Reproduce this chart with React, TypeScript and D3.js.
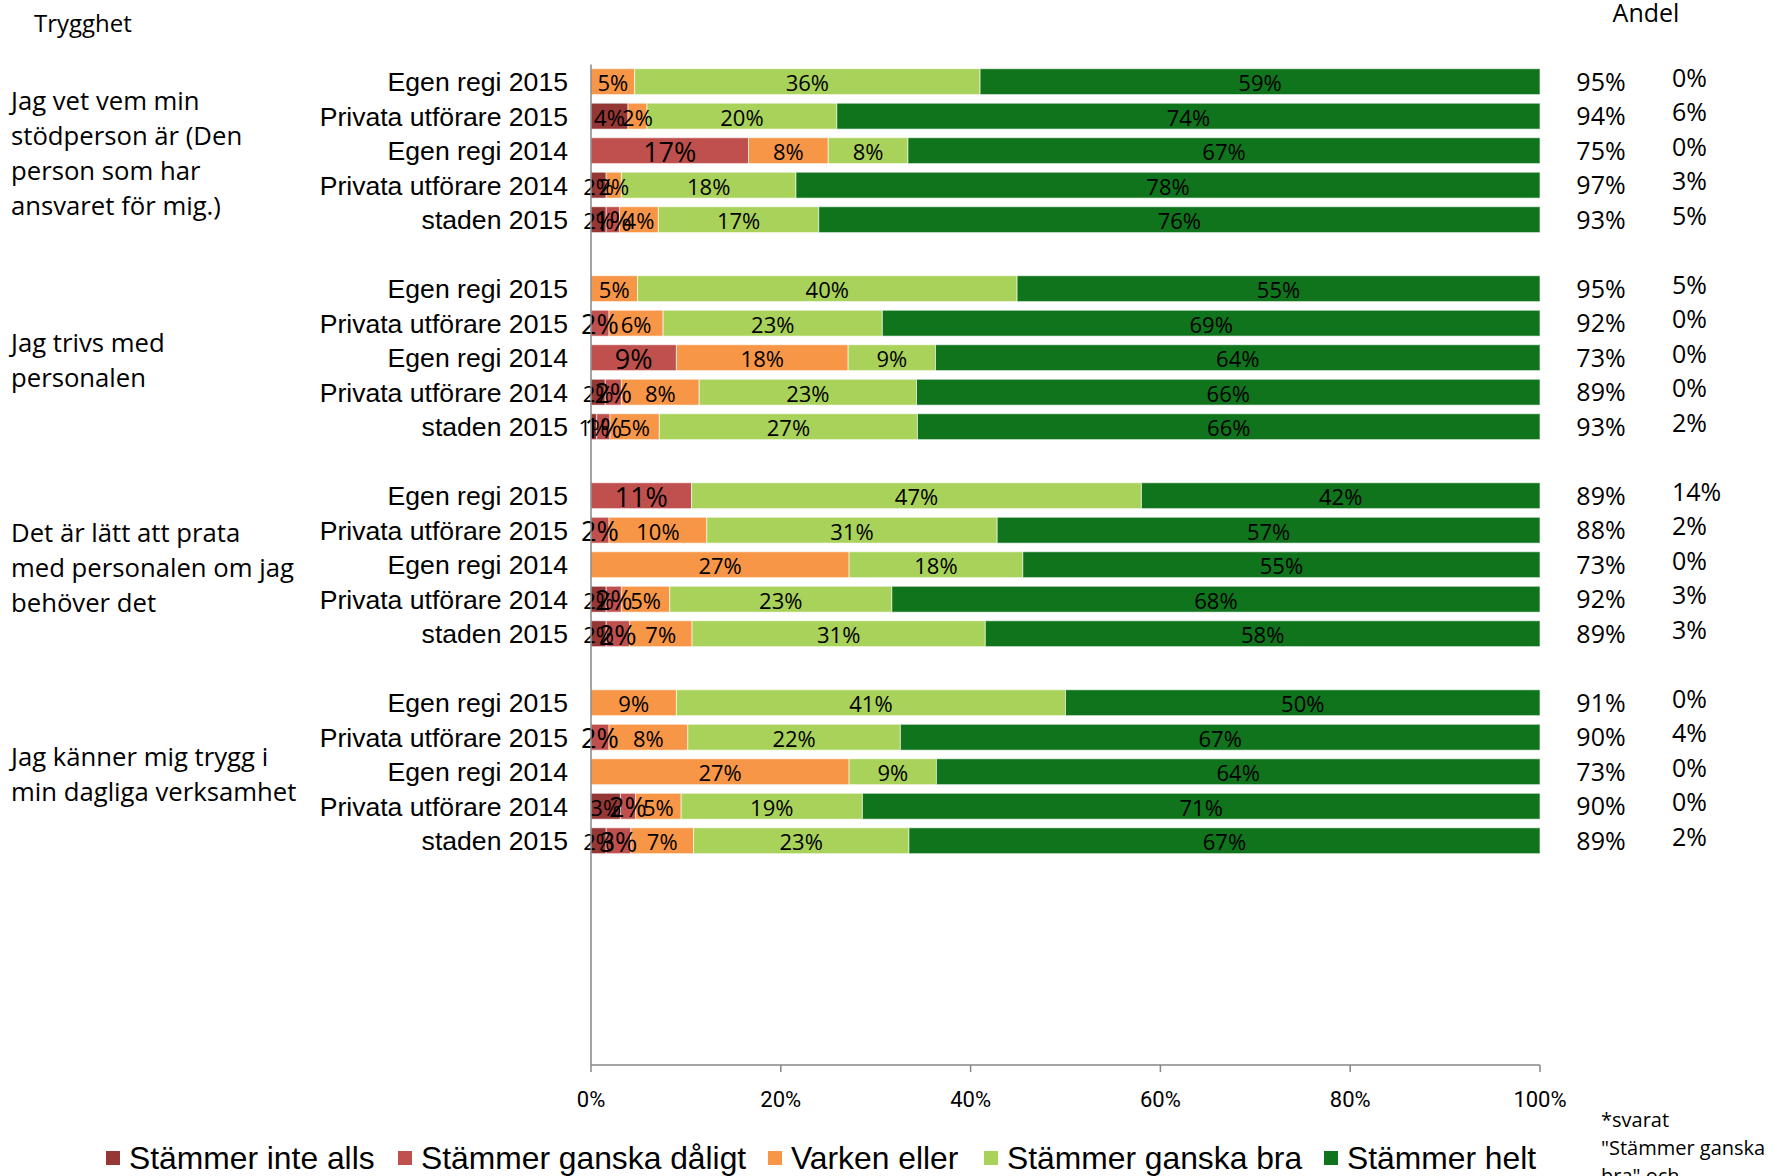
import React from "react";
import * as d3 from "d3";

const questions = [
  ["Jag vet vem min", "stödperson är (Den", "person som har", "ansvaret för mig.)"],
  ["Jag trivs med", "personalen"],
  ["Det är lätt att prata", "med personalen om jag", "behöver det"],
  ["Jag känner mig trygg i", "min dagliga verksamhet"],
];
const categories = ["Egen regi 2015", "Privata utförare 2015", "Egen regi 2014", "Privata utförare 2014", "staden 2015"];
const seriesNames = ["Stämmer inte alls", "Stämmer ganska dåligt", "Varken eller", "Stämmer ganska bra", "Stämmer helt"];
const seriesColors = ["#953735", "#C0504D", "#F79646", "#A9D25A", "#0F741C"];

// 20 rows: 4 questions x 5 categories
const inteAlls = [0, 3.9, 0, 1.6, 1.6, 0, 0, 0, 1.5, 0.6, 0, 0, 0, 1.6, 1.6, 0, 0, 0, 3.1, 1.6];
const ganskaDaligt = [0, 0, 16.6, 0, 1.4, 0, 1.9, 9.0, 1.7, 1.4, 10.6, 1.9, 0, 1.6, 2.45, 0, 1.9, 0, 1.6, 2.6];
const varkenEller = [4.6, 2.0, 8.4, 1.6, 4.1, 4.9, 5.7, 18.1, 8.2, 5.2, 0, 10.3, 27.2, 5.1, 6.6, 9.0, 8.3, 27.2, 4.8, 6.6];
const ganskaBra = [36.4, 20.0, 8.4, 18.4, 16.9, 40.0, 23.1, 9.2, 22.9, 27.2, 47.4, 30.6, 18.3, 23.4, 30.9, 41.0, 22.4, 9.2, 19.1, 22.7];
const helt = [59.0, 74.1, 66.6, 78.4, 76.0, 55.1, 69.3, 63.7, 65.7, 65.6, 42.0, 57.2, 54.5, 68.3, 58.45, 50.0, 67.4, 63.6, 71.4, 66.5];

const andel = [95, 94, 75, 97, 93, 95, 92, 73, 89, 93, 89, 88, 73, 92, 89, 91, 90, 73, 90, 89];
const andel2 = [0, 6, 0, 3, 5, 5, 0, 0, 0, 2, 14, 2, 0, 3, 3, 0, 4, 0, 0, 2];

const xTicks = [0, 20, 40, 60, 80, 100];
const noteLines = ["*svarat", "\"Stämmer ganska", "bra\" och"];

const W = 1777;
const H = 1176;
const SLOTS = 29;

export default function App() {
  const x = d3.scaleLinear().domain([0, 100]).range([591, 1540]);
  const y = d3
    .scaleBand<number>()
    .domain(d3.range(SLOTS))
    .range([64.4, 1065])
    .paddingInner(0.25)
    .paddingOuter(0.125);
  const bh = y.bandwidth();
  const series = [inteAlls, ganskaDaligt, varkenEller, ganskaBra, helt];

  const rows = d3.range(20).map((i) => {
    const g = Math.floor(i / 5);
    const r = i % 5;
    const slot = g * 6 + r;
    const cy = (y(slot) as number) + bh / 2;
    let acc = 0;
    const segs = series.map((s, si) => {
      const v = s[i];
      const seg = { si, x0: acc, x1: acc + v, v };
      acc += v;
      return seg;
    });
    return { i, g, r, slot, cy, segs };
  });

  const sans = "'Open Sans', sans-serif";
  const arial = "'Liberation Sans', Arial, sans-serif";
  const legendX = [106, 398, 768, 984, 1324];
  const axisBottom = 1065;

  return (
    <svg
      width={W}
      height={H}
      viewBox={`0 0 ${W} ${H}`}
      style={{ position: "absolute", left: 0, top: 0, display: "block", background: "#fff" }}
    >
      <rect x={0} y={0} width={W} height={H} fill="#fff" />
      <text x={34} y={32} fontFamily={sans} fontSize={24} fill="#000">Trygghet</text>
      <text x={1646} y={22} fontFamily={sans} fontSize={25} fill="#000" textAnchor="middle">Andel</text>

      {/* question labels */}
      {questions.map((lines, g) => {
        const center = (y(g * 6 + 2) as number) + bh / 2 + 3;
        const lh = 35;
        const top = center - ((lines.length - 1) * lh) / 2;
        return lines.map((ln, li) => (
          <text key={`q${g}-${li}`} x={11} y={top + li * lh} dy="0.35em" fontFamily={sans} fontSize={25.7} fill="#000">
            {ln}
          </text>
        ));
      })}

      {/* bars */}
      {rows.map((row) => (
        <g key={`row${row.i}`}>
          <text x={568} y={row.cy} dy="0.36em" textAnchor="end" fontFamily={arial} fontSize={26.6} fill="#000">
            {categories[row.r]}
          </text>
          {row.segs.map((s) =>
            s.v > 0 ? (
              <rect
                key={`s${s.si}`}
                x={x(s.x0)}
                y={y(row.slot) as number}
                width={x(s.x1) - x(s.x0)}
                height={bh}
                fill={seriesColors[s.si]}
                stroke="#ffffff"
                strokeOpacity={0.6}
                strokeWidth={1}
              />
            ) : null
          )}
        </g>
      ))}

      {/* segment labels */}
      {rows.map((row) =>
        row.segs.map((s) =>
          s.v > 0 ? (
            <text
              key={`l${row.i}-${s.si}`}
              x={(x(s.x0) + x(s.x1)) / 2}
              y={row.cy + 1.5}
              dy="0.36em"
              textAnchor="middle"
              fontFamily={sans}
              fontSize={s.si === 1 ? 27 : 22}
              fill="#000"
            >
              {Math.round(s.v)}%
            </text>
          ) : null
        )
      )}

      {/* right columns */}
      {rows.map((row) => (
        <g key={`a${row.i}`}>
          <text x={1601} y={row.cy} dy="0.36em" textAnchor="middle" fontFamily={sans} fontSize={25} fill="#000">
            {andel[row.i]}%
          </text>
          <text x={1672} y={row.cy - 4} dy="0.36em" textAnchor="start" fontFamily={sans} fontSize={25} fill="#000">
            {andel2[row.i]}%
          </text>
        </g>
      ))}

      {/* axes */}
      <line x1={x(0)} x2={x(0)} y1={64.4} y2={axisBottom} stroke="#868686" strokeWidth={1.5} />
      <line x1={x(0)} x2={x(100)} y1={axisBottom} y2={axisBottom} stroke="#868686" strokeWidth={1.5} />
      {xTicks.map((t) => (
        <g key={`t${t}`}>
          <line x1={x(t)} x2={x(t)} y1={axisBottom} y2={axisBottom + 7} stroke="#868686" strokeWidth={1.5} />
          <text x={x(t)} y={1099} dy="0.36em" textAnchor="middle" fontFamily="Roboto, sans-serif" fontSize={22} fill="#000">
            {t}%
          </text>
        </g>
      ))}

      {/* legend */}
      {seriesNames.map((n, i) => (
        <g key={`lg${i}`}>
          <rect x={legendX[i]} y={1151} width={14} height={14} fill={seriesColors[i]} />
          <text x={legendX[i] + 23} y={1158} dy="0.36em" fontFamily={arial} fontSize={31.8} fill="#000">
            {n}
          </text>
        </g>
      ))}

      {/* note */}
      {noteLines.map((ln, i) => (
        <text key={`n${i}`} x={1601} y={1120 + i * 28} dy="0.35em" fontFamily={sans} fontSize={20} fill="#000">
          {ln}
        </text>
      ))}
    </svg>
  );
}
